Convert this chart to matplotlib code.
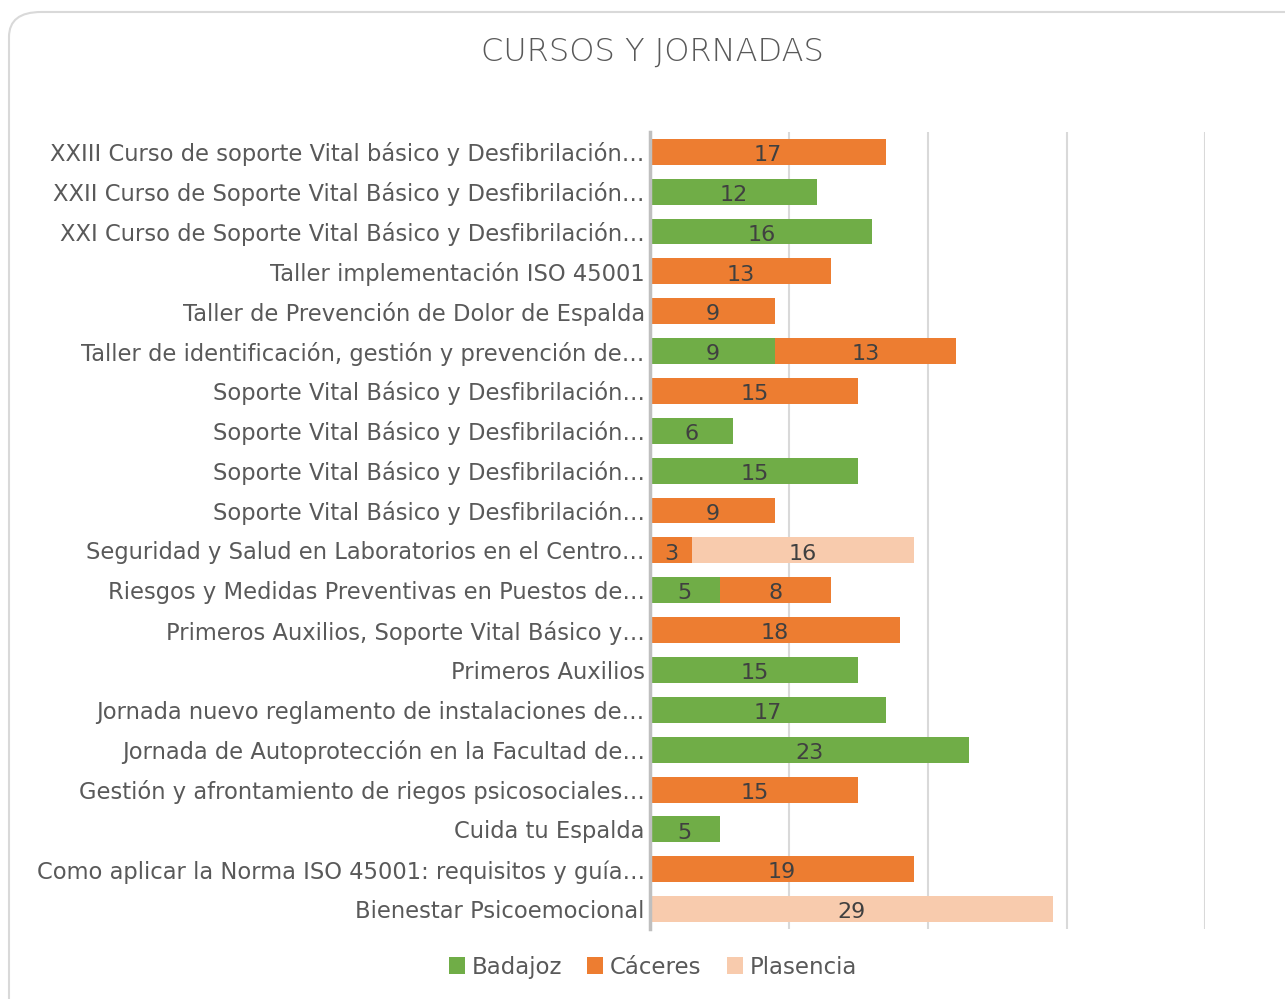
import numpy as np
import matplotlib.pyplot as plt
from matplotlib.patches import FancyBboxPatch

#%% data

cursos = [
    "XXIII Curso de soporte Vital básico y Desfibrilación…",
    "XXII Curso de Soporte Vital Básico y Desfibrilación…",
    "XXI Curso de Soporte Vital Básico y Desfibrilación…",
    "Taller implementación ISO 45001",
    "Taller de Prevención de Dolor de Espalda",
    "Taller de identificación, gestión y prevención de…",
    "Soporte Vital Básico y Desfibrilación…",
    "Soporte Vital Básico y Desfibrilación…",
    "Soporte Vital Básico y Desfibrilación…",
    "Soporte Vital Básico y Desfibrilación…",
    "Seguridad y Salud en Laboratorios en el Centro…",
    "Riesgos y Medidas Preventivas en Puestos de…",
    "Primeros Auxilios, Soporte Vital Básico y…",
    "Primeros Auxilios",
    "Jornada nuevo reglamento de instalaciones de…",
    "Jornada de Autoprotección en la Facultad de…",
    "Gestión y afrontamiento de riegos psicosociales…",
    "Cuida tu Espalda",
    "Como aplicar la Norma ISO 45001: requisitos y guía…",
    "Bienestar Psicoemocional",
]
badajoz   = [0, 12, 16, 0, 0, 9, 0, 6, 15, 0, 0, 5, 0, 15, 17, 23, 0, 5, 0, 0]
caceres   = [17, 0, 0, 13, 9, 13, 15, 0, 0, 9, 3, 8, 18, 0, 0, 0, 15, 0, 19, 0]
plasencia = [0, 0, 0, 0, 0, 0, 0, 0, 0, 0, 16, 0, 0, 0, 0, 0, 0, 0, 0, 29]

series = ["Badajoz", "Cáceres", "Plasencia"]
colores = ["#70AD47", "#ED7D31", "#F8CBAD"]

#%% plot

txt = "#595959"
fig = plt.figure(figsize=(12.85, 9.99), dpi=100)
ax = fig.add_axes([0.506, 0.070, 0.432, 0.798])

# rounded chart border
fig.patches.append(FancyBboxPatch((0.007, -0.05), 1.05, 1.038,
                                  boxstyle="round,pad=0,rounding_size=0.025",
                                  transform=fig.transFigure, fc="white",
                                  ec="#D9D9D9", lw=1.5, zorder=-10))

y = np.arange(len(cursos))
left = np.zeros(len(cursos))
for nombre, vals, col in zip(series, [badajoz, caceres, plasencia], colores):
    vals = np.array(vals)
    bars = ax.barh(y, vals, left=left, height=0.65, color=col, label=nombre, zorder=3)
    for b, v in zip(bars, vals):
        if v > 0:
            ax.text(b.get_x() + b.get_width() / 2, b.get_y() + b.get_height() / 2 + 0.08,
                    str(v), ha="center", va="center", fontsize=16, color="#404040", zorder=4)
    left += vals

ax.set_xlim(0, 40)
ax.set_ylim(len(cursos) - 0.5, -0.5)
ax.set_xticks([0, 10, 20, 30, 40])
ax.set_xticklabels([])
ax.tick_params(axis="x", length=0)
ax.grid(axis="x", color="#D9D9D9", lw=1.5, zorder=0)
ax.set_yticks(y)
ax.set_yticklabels(cursos, fontsize=16.3, color=txt)
ax.tick_params(axis="y", length=0, pad=4)
for s in ["top", "right", "bottom"]:
    ax.spines[s].set_visible(False)
ax.spines["left"].set_color("#BFBFBF")
ax.spines["left"].set_linewidth(2.5)
ax.spines["left"].set_zorder(5)

fig.text(0.508, 0.948, "CURSOS Y JORNADAS", ha="center", va="center",
         fontsize=23, color=txt, fontweight="light")

handles, labels = ax.get_legend_handles_labels()
fig.legend(handles, labels, loc="center", bbox_to_anchor=(0.508, 0.032), ncol=3,
           frameon=False, fontsize=16.5, labelcolor=txt, handlelength=0.7,
           handleheight=0.7, handletextpad=0.3, columnspacing=1.1)

fig.savefig("out.png", dpi=100)
